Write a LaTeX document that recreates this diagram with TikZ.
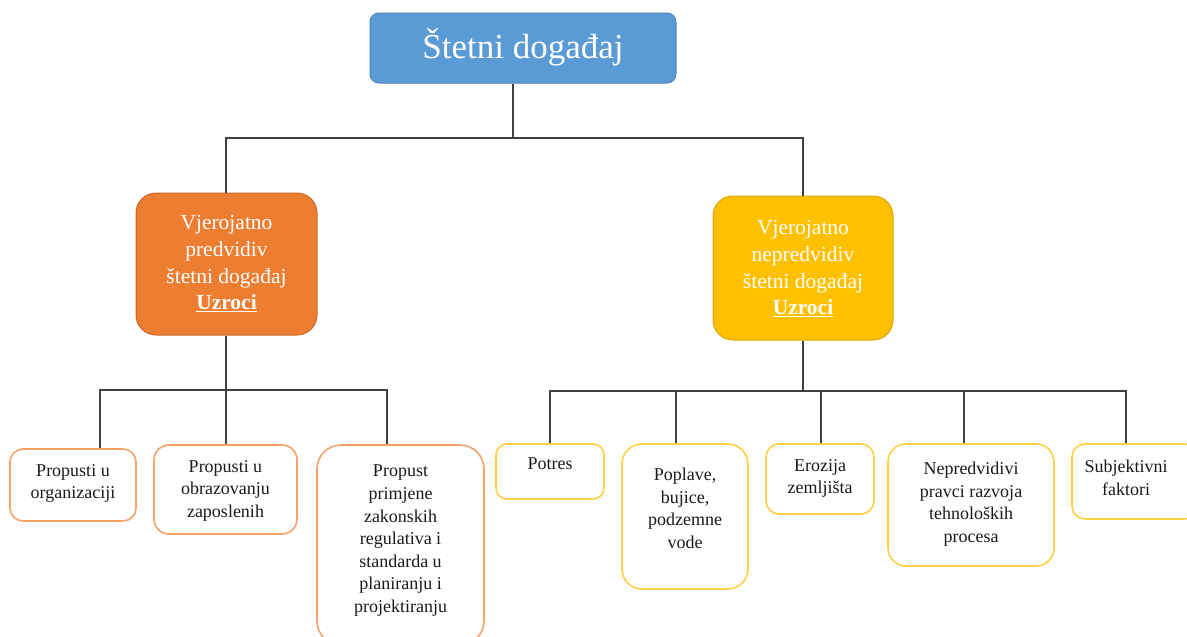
\documentclass[tikz,border=0pt]{standalone}
\usepackage{fontspec}
\setmainfont{Liberation Serif}
\definecolor{topblue}{HTML}{5B9BD5}
\definecolor{topblueb}{HTML}{4A82B8}
\definecolor{midorange}{HTML}{ED7D31}
\definecolor{midorangeb}{HTML}{C8692A}
\definecolor{midyellow}{HTML}{FFC000}
\definecolor{midyellowb}{HTML}{D9A400}
\definecolor{childorange}{HTML}{F4A36A}
\definecolor{childyellow}{HTML}{FFD044}
\definecolor{linegray}{HTML}{404040}
\definecolor{txt}{HTML}{1A1A1A}
\newcommand{\ulw}[1]{\underline{#1}}
\begin{document}
\begin{tikzpicture}[x=1pt,y=-1pt,
  box/.style={draw, line width=1pt, inner sep=0pt, minimum width=#1},
  child/.style={line width=1.6pt},
  conn/.style={draw=linegray, line width=1.6pt},
  childtxt/.style={anchor=north, inner sep=0pt, align=center, text=txt,
    font=\fontsize{18}{22.6}\selectfont},
  midtxt/.style={anchor=north, inner sep=0pt, align=center, text=white,
    font=\fontsize{21.5}{26.8}\selectfont},
]
\useasboundingbox (0,0) rectangle (1187,637);

% top box
\node[box=306pt, minimum height=70pt, fill=topblue, draw=topblueb, rounded corners=9pt] (top) at (523,48) {};
\node[inner sep=0pt, text=white, font=\fontsize{35}{40}\selectfont] (toptxt) at (523,47) {Štetni događaj};

% middle boxes
\node[box=181pt, minimum height=142pt, fill=midorange, draw=midorangeb, rounded corners=20pt] (left) at (226.5,264) {};
\node[midtxt] (lefttxt) at (226.5,215) {Vjerojatno\\predvidiv\\štetni događaj\\\textbf{\ulw{Uzroci}}};
\node[box=180pt, minimum height=144pt, fill=midyellow, draw=midyellowb, rounded corners=20pt] (right) at (803,268) {};
\node[midtxt] (righttxt) at (803,220) {Vjerojatno\\nepredvidiv\\štetni događaj\\\textbf{\ulw{Uzroci}}};

% left children
\node[box=126pt, child, minimum height=72pt, draw=childorange, rounded corners=13pt] (c1) at (73,485) {};
\node[childtxt] (c1t) at (73,464) {Propusti u\\organizaciji};
\node[box=143pt, child, minimum height=89pt, draw=childorange, rounded corners=15pt] (c2) at (225.5,489.5) {};
\node[childtxt] (c2t) at (225.5,460) {Propusti u\\obrazovanju\\zaposlenih};
\node[box=167pt, child, minimum height=200pt, draw=childorange, rounded corners=24pt] (c3) at (400.5,545) {};
\node[childtxt] (c3t) at (400.5,465) {Propust\\primjene\\zakonskih\\regulativa i\\standarda u\\planiranju i\\projektiranju};

% right children
\node[box=108pt, child, minimum height=55pt, draw=childyellow, rounded corners=11pt] (d1) at (550,471.5) {};
\node[childtxt] (d1t) at (550,458) {Potres};
\node[box=126pt, child, minimum height=145pt, draw=childyellow, rounded corners=20pt] (d2) at (685,516.5) {};
\node[childtxt] (d2t) at (685,468) {Poplave,\\bujice,\\podzemne\\vode};
\node[box=108pt, child, minimum height=70pt, draw=childyellow, rounded corners=13pt] (d3) at (820,479) {};
\node[childtxt] (d3t) at (820,459) {Erozija\\zemljišta};
\node[box=166pt, child, minimum height=122pt, draw=childyellow, rounded corners=18pt] (d4) at (971,505) {};
\node[childtxt] (d4t) at (971,462) {Nepredvidivi\\pravci razvoja\\tehnoloških\\procesa};
\node[box=126pt, child, minimum height=75pt, draw=childyellow, rounded corners=13pt] (d5) at (1135,481.5) {};
\node[childtxt] (d5t) at (1126,460) {Subjektivni\\faktori};

% junction coordinates
\coordinate (j0) at (513,138);
\coordinate (jl) at (226,390);
\coordinate (xl1) at (100,390);
\coordinate (xl3) at (387,390);
\coordinate (jr) at (803,391);
\coordinate (xr2) at (676,391);
\coordinate (xr3) at (821,391);
\coordinate (xr4) at (964,391);
\coordinate (xr5) at (1126,391);

% connectors
\draw[conn] (top.south -| j0) -- (j0);
\draw[conn] (left.north -| jl) -- (jl |- j0) -- (right.north |- j0) -- (right.north);

\draw[conn] (left.south -| jl) -- (jl);
\draw[conn] (c1.north -| xl1) -- (xl1) -- (xl3) -- (c3.north -| xl3);
\draw[conn] (jl) -- (c2.north -| jl);

\draw[conn] (right.south) -- (jr);
\draw[conn] (d1.north) -- (d1.north |- jr) -- (xr5) -- (d5.north -| xr5);
\draw[conn] (d2.north -| xr2) -- (xr2);
\draw[conn] (d3.north -| xr3) -- (xr3);
\draw[conn] (d4.north -| xr4) -- (xr4);
\end{tikzpicture}
\end{document}
